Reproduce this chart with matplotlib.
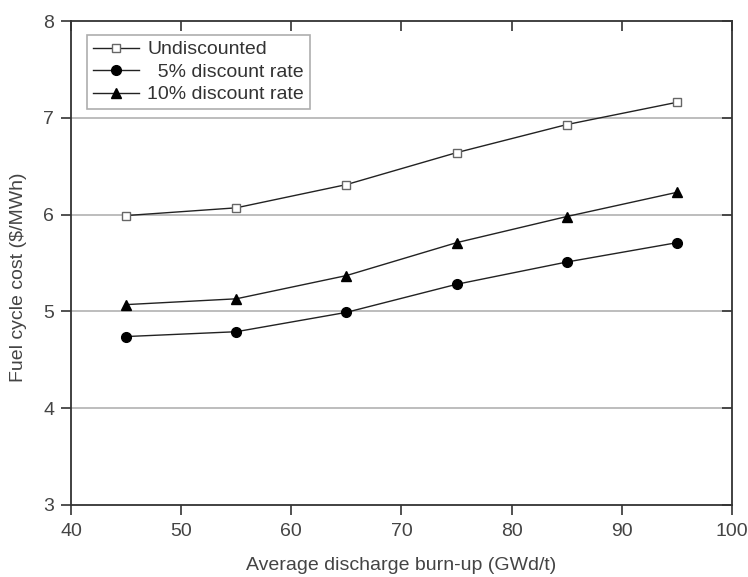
import matplotlib
matplotlib.use("Agg")
import matplotlib.pyplot as plt

plt.rcParams["font.family"] = "Liberation Sans"
plt.rcParams["font.size"] = 14

burnup = [45, 55, 65, 75, 85, 95]
undiscounted = [5.99, 6.07, 6.31, 6.64, 6.93, 7.16]
disc_5 = [4.74, 4.79, 4.99, 5.28, 5.51, 5.71]
disc_10 = [5.07, 5.13, 5.37, 5.71, 5.98, 6.23]

fig = plt.figure(figsize=(7.48, 5.77), dpi=100)
ax = fig.add_axes([0.0949, 0.1248, 0.8837, 0.8388])

for yv in [4, 5, 6, 7]:
    ax.axhline(yv, color='#b8b8b8', lw=1.3, zorder=0)

ax.plot(burnup, undiscounted, '-s', color='#222222', lw=1.0, ms=6, mfc='white', mec='#666666', mew=1.0, label='Undiscounted')
ax.plot(burnup, disc_5, '-o', color='#222222', lw=1.0, ms=7, mfc='k', mec='k', label='  5% discount rate')
ax.plot(burnup, disc_10, '-^', color='#222222', lw=1.0, ms=7.5, mfc='k', mec='k', label='10% discount rate')

ax.set_xlim(40, 100)
ax.set_ylim(3, 8)
ax.set_xticks([40, 50, 60, 70, 80, 90, 100])
ax.set_yticks([3, 4, 5, 6, 7, 8])
ax.tick_params(axis='both', which='major', direction='out', length=7, width=1.2,
               colors='#333333', labelcolor='#444444', top=True, right=True)
ax.tick_params(axis='x', pad=6)
ax.tick_params(axis='y', pad=5)
for sp in ax.spines.values():
    sp.set_linewidth(1.3)
    sp.set_color('#333333')

# top and right ticks point inward
for t in ax.xaxis.get_major_ticks():
    t.tick2line.set_marker(3)
for t in ax.yaxis.get_major_ticks():
    t.tick2line.set_marker(0)

ax.set_xlabel('Average discharge burn-up (GWd/t)', color='#444444', labelpad=12)
ax.set_ylabel('Fuel cycle cost (\\$/MWh)', color='#444444')
ax.yaxis.set_label_coords(-0.066, 0.47)

leg = ax.legend(loc='upper left', bbox_to_anchor=(0.024, 0.971), borderaxespad=0,
                frameon=True, fancybox=False, edgecolor='#999999',
                handlelength=2.4, handletextpad=0.4, borderpad=0.3,
                labelspacing=0.25, fontsize=14)
leg.get_frame().set_linewidth(1.2)
for txt in leg.get_texts():
    txt.set_color('#333333')

fig.savefig('out.png', dpi=100)
